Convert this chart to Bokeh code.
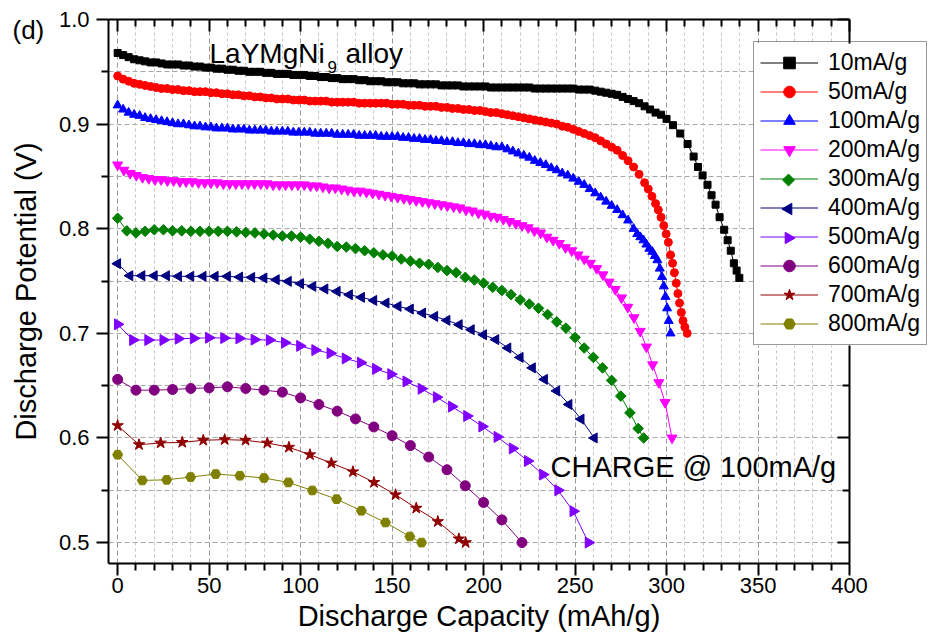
import math
from bokeh.plotting import figure
from bokeh.models import (LinearAxis, FixedTicker, PrintfTickFormatter, Legend,
                          LegendItem, Label, Range1d, Grid)
from bokeh.embed import file_html
from bokeh.resources import INLINE

FONT = "Liberation Sans"

# ---------------- data ----------------
x_major = [0, 50, 100, 150, 200, 250, 300, 350, 400]
x_minor = [10, 20, 30, 40, 60, 70, 80, 90, 110, 120, 130, 140, 160, 170, 180, 190,
           210, 220, 230, 240, 260, 270, 280, 290, 310, 320, 330, 340, 360, 370, 380, 390]
y_major = [0.5, 0.6, 0.7, 0.8, 0.9, 1.0]
y_minor = [0.55, 0.65, 0.75, 0.85, 0.95]

x10 = [0, 3, 6, 9, 12, 15, 18, 21, 24, 27, 30, 33, 36, 39, 42, 45, 48, 51, 54, 57, 60, 63, 66, 69,
       72, 75, 78, 81, 84, 87, 90, 93, 96, 99, 102, 105, 108, 111, 114, 117, 120, 123, 126, 129,
       132, 135, 138, 141, 144, 147, 150, 153, 156, 159, 162, 165, 168, 171, 174, 177, 180, 183,
       186, 189, 192, 195, 198, 201, 204, 207, 210, 213, 216, 219, 222, 225, 228, 231, 234, 237,
       240, 243, 246, 249, 252, 255, 258, 261, 264, 267, 270, 273, 276, 279, 282, 285, 288, 291,
       294, 297, 300, 303.5, 307.5, 311.5, 314.8, 317.2, 319.7, 322.4, 324.6, 326.8, 329, 331.5,
       333.4, 335.1, 336.8, 338.3, 339.8]
y10 = [0.968, 0.966, 0.964, 0.962, 0.961, 0.960, 0.959, 0.959, 0.958, 0.957, 0.957, 0.957, 0.956,
       0.956, 0.955, 0.955, 0.954, 0.954, 0.953, 0.953, 0.952, 0.952, 0.951, 0.951, 0.950, 0.950,
       0.950, 0.949, 0.949, 0.948, 0.948, 0.948, 0.947, 0.947, 0.947, 0.946, 0.946, 0.945, 0.945,
       0.944, 0.944, 0.943, 0.943, 0.943, 0.942, 0.942, 0.941, 0.941, 0.941, 0.940, 0.940, 0.940,
       0.939, 0.939, 0.939, 0.938, 0.938, 0.938, 0.938, 0.937, 0.937, 0.937, 0.937, 0.936, 0.936,
       0.936, 0.936, 0.936, 0.935, 0.935, 0.935, 0.935, 0.935, 0.935, 0.935, 0.935, 0.934, 0.934,
       0.934, 0.934, 0.934, 0.934, 0.934, 0.934, 0.933, 0.933, 0.933, 0.932, 0.931, 0.930, 0.929,
       0.928, 0.926, 0.924, 0.922, 0.920, 0.917, 0.914, 0.911, 0.909, 0.905, 0.899, 0.891, 0.881,
       0.869, 0.859, 0.851, 0.842, 0.832, 0.823, 0.811, 0.799, 0.789, 0.779, 0.767, 0.760, 0.753]

x50 = [0, 3, 6, 9, 12, 15, 18, 21, 24, 27, 30, 33, 36, 39, 42, 45, 48, 51, 54, 57, 60, 63, 66, 69,
       72, 75, 78, 81, 84, 87, 90, 93, 96, 99, 102, 105, 108, 111, 114, 117, 120, 123, 126, 129,
       132, 135, 138, 141, 144, 147, 150, 153, 156, 159, 162, 165, 168, 171, 174, 177, 180, 183,
       186, 189, 192, 195, 198, 201, 204, 207, 210, 213, 216, 219, 222, 225, 228, 231, 234, 237,
       240, 243, 246, 249, 252, 255, 258, 261, 264, 267, 270, 273, 276, 279, 282, 285, 288, 290,
       292, 294, 295.5, 297, 298.5, 299.8, 301, 302.2, 303.3, 304.3, 305.3, 306.2, 307.1, 308.1,
       309, 310, 311.3]
y50 = [0.946, 0.943, 0.941, 0.939, 0.938, 0.937, 0.936, 0.935, 0.934, 0.934, 0.933, 0.933, 0.932,
       0.932, 0.931, 0.931, 0.931, 0.930, 0.930, 0.929, 0.929, 0.928, 0.928, 0.927, 0.927, 0.926,
       0.926, 0.925, 0.925, 0.924, 0.924, 0.924, 0.923, 0.923, 0.923, 0.922, 0.922, 0.922, 0.922,
       0.921, 0.921, 0.921, 0.921, 0.921, 0.920, 0.920, 0.920, 0.920, 0.920, 0.920, 0.919, 0.919,
       0.919, 0.918, 0.918, 0.918, 0.917, 0.917, 0.917, 0.916, 0.916, 0.915, 0.915, 0.914, 0.914,
       0.913, 0.913, 0.912, 0.911, 0.911, 0.910, 0.909, 0.908, 0.907, 0.906, 0.905, 0.904, 0.903,
       0.902, 0.901, 0.900, 0.898, 0.897, 0.895, 0.893, 0.891, 0.889, 0.887, 0.884, 0.881, 0.878,
       0.875, 0.870, 0.865, 0.859, 0.852, 0.844, 0.838, 0.831, 0.824, 0.818, 0.811, 0.803, 0.795,
       0.787, 0.775, 0.767, 0.758, 0.748, 0.738, 0.729, 0.720, 0.712, 0.706, 0.700]

x100 = [0, 3, 6, 9, 12, 15, 18, 21, 24, 27, 30, 33, 36, 39, 42, 45, 48, 51, 54, 57, 60, 63, 66, 69,
        72, 75, 78, 81, 84, 87, 90, 93, 96, 99, 102, 105, 108, 111, 114, 117, 120, 123, 126, 129,
        132, 135, 138, 141, 144, 147, 150, 153, 156, 159, 162, 165, 168, 171, 174, 177, 180, 183,
        186, 189, 192, 195, 198, 201, 204, 207, 210, 213, 216, 219, 222, 225, 228, 231, 234, 237,
        240, 243, 246, 249, 252, 255, 258, 261, 264, 267, 270, 273, 276, 279, 282, 284, 285.7,
        287.4, 289, 290.6, 292.2, 293.6, 295, 296.3, 297.5, 298.5, 299.4, 300.3, 301.2, 302.2]
y100 = [0.918, 0.914, 0.911, 0.909, 0.908, 0.906, 0.905, 0.904, 0.903, 0.902, 0.901, 0.900, 0.900,
        0.899, 0.898, 0.898, 0.897, 0.897, 0.896, 0.896, 0.896, 0.895, 0.895, 0.895, 0.894, 0.894,
        0.894, 0.894, 0.893, 0.893, 0.893, 0.893, 0.892, 0.892, 0.892, 0.892, 0.891, 0.891, 0.891,
        0.891, 0.890, 0.890, 0.890, 0.890, 0.889, 0.889, 0.889, 0.889, 0.888, 0.888, 0.888, 0.888,
        0.887, 0.887, 0.886, 0.886, 0.885, 0.885, 0.884, 0.884, 0.883, 0.883, 0.882, 0.882, 0.881,
        0.881, 0.880, 0.880, 0.879, 0.878, 0.878, 0.876, 0.874, 0.872, 0.870, 0.868, 0.865, 0.863,
        0.861, 0.858, 0.856, 0.853, 0.851, 0.848, 0.845, 0.842, 0.838, 0.834, 0.830, 0.826, 0.822,
        0.818, 0.813, 0.808, 0.800, 0.795, 0.792, 0.789, 0.785, 0.781, 0.778, 0.774, 0.770, 0.762,
        0.754, 0.745, 0.735, 0.724, 0.712, 0.700]

x200 = [0, 3.4, 6.8, 10.2, 13.6, 17, 20.4, 23.8, 27.2, 30.6, 34, 37.4, 40.8, 44.2, 47.6, 51, 54.4,
        57.8, 61.2, 64.6, 68, 71.4, 74.8, 78.2, 81.6, 85, 88.4, 91.8, 95.2, 98.6, 102, 105.4, 108.8,
        112.2, 115.6, 119, 122.4, 125.8, 129.2, 132.6, 136, 139.4, 142.8, 146.2, 149.6, 153, 156.4,
        159.8, 163.2, 166.6, 170, 173.4, 176.8, 180.2, 183.6, 187, 190.4, 193.8, 197.2, 200.6, 204,
        207.4, 210.8, 214.2, 217.6, 221, 224.4, 227.8, 231.2, 234.6, 238, 241.4, 244.8, 248.2,
        251.6, 255, 258.4, 261.8, 265.2, 268.6, 272, 275.4, 278.8, 282.2, 285.6, 289, 292.4, 295.8,
        299.2, 303]
y200 = [0.861, 0.856, 0.853, 0.851, 0.849, 0.848, 0.847, 0.847, 0.846, 0.846, 0.845, 0.845, 0.845,
        0.844, 0.844, 0.844, 0.844, 0.843, 0.843, 0.843, 0.843, 0.843, 0.843, 0.843, 0.843, 0.842,
        0.842, 0.842, 0.842, 0.842, 0.842, 0.841, 0.841, 0.840, 0.839, 0.839, 0.838, 0.837, 0.836,
        0.836, 0.835, 0.834, 0.833, 0.832, 0.831, 0.830, 0.829, 0.828, 0.827, 0.826, 0.825, 0.824,
        0.823, 0.822, 0.821, 0.820, 0.818, 0.817, 0.815, 0.814, 0.812, 0.811, 0.809, 0.807, 0.805,
        0.803, 0.801, 0.798, 0.796, 0.792, 0.789, 0.786, 0.782, 0.779, 0.775, 0.771, 0.767, 0.762,
        0.756, 0.749, 0.742, 0.734, 0.725, 0.715, 0.702, 0.687, 0.670, 0.653, 0.634, 0.600]

x300 = [0, 5, 10, 15, 20, 25, 30, 35, 40, 45, 50, 55, 60, 65, 70, 75, 80, 85, 90, 95, 100, 105, 110,
        115, 120, 125, 130, 135, 140, 145, 150, 155, 160, 165, 170, 175, 180, 185, 190, 195, 200,
        205, 210, 215, 220, 225, 230, 235, 240, 245, 250, 255, 260, 265, 270, 275, 280, 284.5, 287.5]
y300 = [0.810, 0.798, 0.796, 0.7975, 0.799, 0.799, 0.798, 0.798, 0.7975, 0.7975, 0.7975, 0.7975,
        0.7975, 0.797, 0.7965, 0.796, 0.795, 0.794, 0.793, 0.793, 0.792, 0.790, 0.788, 0.786, 0.783,
        0.7825, 0.781, 0.779, 0.777, 0.775, 0.774, 0.771, 0.769, 0.767, 0.766, 0.763, 0.760, 0.758,
        0.7535, 0.751, 0.748, 0.744, 0.741, 0.737, 0.732, 0.728, 0.724, 0.718, 0.711, 0.705, 0.696,
        0.686, 0.677, 0.667, 0.655, 0.640, 0.624, 0.609, 0.600]

x400 = [0, 6.7, 13.3, 20, 26.7, 33.3, 40, 46.7, 53.3, 60, 66.7, 73.3, 80, 86.7, 93.3, 100, 106.7,
        113.3, 120, 126.7, 133.3, 140, 146.7, 153.3, 160, 166.7, 173.3, 180, 186.7, 193.3, 200,
        206.7, 213.3, 220, 226.7, 233.3, 240, 246.7, 253.3, 260.5]
y400 = [0.7666, 0.7551, 0.7551, 0.7551, 0.7551, 0.7545, 0.7545, 0.7545, 0.7545, 0.7545, 0.7538,
        0.7535, 0.7529, 0.7513, 0.7497, 0.7475, 0.7449, 0.7424, 0.7401, 0.7369, 0.7344, 0.7315,
        0.7290, 0.7258, 0.7232, 0.7194, 0.7162, 0.7124, 0.7083, 0.7035, 0.6987, 0.694, 0.686,
        0.677, 0.667, 0.656, 0.645, 0.632, 0.618, 0.600]

x500 = [0, 8.3, 16.6, 24.9, 33.2, 41.5, 49.8, 58.1, 66.4, 74.7, 83, 91.3, 99.6, 107.9, 116.2, 124.5,
        132.8, 141.1, 149.4, 157.7, 166, 174.3, 182.6, 190.9, 199.2, 207.5, 215.8, 224.1, 232.4,
        240.7, 249, 257.3]
y500 = [0.7086, 0.6936, 0.6936, 0.6936, 0.6949, 0.6952, 0.6958, 0.6955, 0.6952, 0.694, 0.6936,
        0.691, 0.688, 0.684, 0.681, 0.676, 0.672, 0.666, 0.661, 0.654, 0.647, 0.639, 0.630, 0.621,
        0.611, 0.601, 0.590, 0.578, 0.565, 0.550, 0.530, 0.500]

x600 = [0, 10, 20, 30, 40, 50, 60, 70, 80, 90, 100, 110, 120, 130, 140, 150, 160, 170, 180, 190, 200,
        210, 221]
y600 = [0.656, 0.6457, 0.6457, 0.6463, 0.6473, 0.6479, 0.6489, 0.6473, 0.6457, 0.6438, 0.6383,
        0.632, 0.6256, 0.6182, 0.6105, 0.6022, 0.5927, 0.5818, 0.5696, 0.5543, 0.5383, 0.5217, 0.500]

x700 = [0, 11.7, 23.5, 35.3, 46.8, 58.5, 69.9, 81.8, 93.6, 105.1, 116.8, 128.6, 140.1, 151.9, 163.2,
        175, 186.5, 190.2]
y700 = [0.6118, 0.5936, 0.5952, 0.5958, 0.5978, 0.5984, 0.5978, 0.5952, 0.5911, 0.584, 0.576,
        0.5677, 0.5575, 0.5457, 0.5329, 0.5201, 0.5035, 0.500]

x800 = [0, 13.5, 26.8, 39.9, 53.6, 66.8, 80, 93.3, 106.4, 119.7, 133.2, 146.4, 159.7, 166.1]
y800 = [0.584, 0.5594, 0.560, 0.5626, 0.5655, 0.5639, 0.5617, 0.5575, 0.5498, 0.5415, 0.5304,
        0.5192, 0.5058, 0.500]

labels = ["10mA/g", "50mA/g", "100mA/g", "200mA/g", "300mA/g", "400mA/g", "500mA/g", "600mA/g",
          "700mA/g", "800mA/g"]
xs = [x10, x50, x100, x200, x300, x400, x500, x600, x700, x800]
ys = [y10, y50, y100, y200, y300, y400, y500, y600, y700, y800]
colors = ["#000000", "#FF0000", "#0000FF", "#FF00FF", "#008000", "#000080", "#8000FF", "#800080",
          "#900000", "#808000"]
markers = ["square", "circle", "triangle", "inverted_triangle", "square", "triangle", "triangle",
           "circle", "star", "hex"]
sizes = [7, 8, 9, 10, 7.5, 10, 11, 10, 12, 10]
angles = [0, 0, 0, 0, math.pi / 4, math.pi / 2, -math.pi / 2, 0, 0, 0]

# ---------------- layout constants (screen px of the original frame) ----------------
W, H = 929, 642
FL, FR, FT, FB = 108, 849, 19, 563          # plot-area edges
XA, XB = -5.0, 400.0                        # axis extent
YA, YB = 0.48, 1.0
kx = (FR - FL) / (XB - XA)
ky = (FB - FT) / (YB - YA)
x_start = XA - FL / kx
x_end = XB + (W - FR) / kx
y_start = YA - (H - FB) / ky
y_end = YB + FT / ky

def dx(px):
    return x_start + px / kx

def dy(py):
    return y_end - py / ky

# legend box geometry (screen px)
LG_L, LG_T = 753, 43
LG_PAD, LG_GH, LG_GW, LG_STAND = 6, 29, 58, 10
N = len(labels)
lg_h = LG_GH * N + 2 * LG_PAD
LG_B = LG_T + lg_h
LG_R = 925

p = figure(width=W, height=H, x_range=Range1d(x_start, x_end), y_range=Range1d(y_start, y_end),
           output_backend="svg", toolbar_location=None,
           min_border=0, min_border_left=0, min_border_right=0, min_border_top=0,
           min_border_bottom=0,
           x_axis_label="Discharge Capacity (mAh/g)", y_axis_label="Discharge Potential (V)")
p.outline_line_color = None
p.background_fill_color = "white"
p.border_fill_color = "white"

xt = FixedTicker(ticks=x_major, minor_ticks=x_minor)
yt = FixedTicker(ticks=y_major, minor_ticks=y_minor)

def style_axis(ax, outward=True):
    ax.axis_line_width = 2
    ax.axis_line_color = "black"
    ax.major_tick_line_width = 2
    ax.minor_tick_line_width = 2
    ax.major_tick_line_color = "black"
    ax.minor_tick_line_color = "black"
    if outward:
        ax.major_tick_out = 12
        ax.major_tick_in = 0
        ax.minor_tick_out = 7
        ax.minor_tick_in = 0
    else:
        ax.major_tick_out = 0
        ax.major_tick_in = 12
        ax.minor_tick_out = 0
        ax.minor_tick_in = 7
    ax.major_label_text_font = FONT
    ax.major_label_text_font_size = "22px"
    ax.major_label_text_color = "black"
    ax.axis_label_text_font = FONT
    ax.axis_label_text_font_size = "29px"
    ax.axis_label_text_font_style = "normal"
    ax.axis_label_text_color = "black"

for ax in p.xaxis:
    ax.ticker = xt
    style_axis(ax)
    ax.fixed_location = YA
    ax.bounds = (XA, XB)
    ax.major_label_standoff = 2
    ax.axis_label_standoff = 4
for ax in p.yaxis:
    ax.ticker = yt
    ax.formatter = PrintfTickFormatter(format="%.1f")
    style_axis(ax)
    ax.fixed_location = XA
    ax.bounds = (YA, YB)
    ax.major_label_standoff = 7
    ax.axis_label_standoff = 14

top = LinearAxis(ticker=xt)
style_axis(top, outward=False)
top.major_label_text_color = None
top.fixed_location = YB
top.bounds = (XA, XB)
p.add_layout(top, "above")
# right frame axis, interrupted where the legend box covers it
for lo, hi in [(YA, dy(LG_B)), (dy(LG_T), YB)]:
    tk = FixedTicker(ticks=[t for t in y_major if lo - 1e-9 <= t <= hi + 1e-9],
                     minor_ticks=[t for t in y_minor if lo - 1e-9 <= t <= hi + 1e-9])
    right = LinearAxis(ticker=tk)
    style_axis(right, outward=False)
    right.major_label_text_color = None
    right.fixed_location = XB
    right.bounds = (lo, hi)
    p.add_layout(right, "right")

has_cross = "cross_bounds" in Grid.properties()
if has_cross:
    p.xgrid.cross_bounds = (YA, YB)
    p.ygrid.cross_bounds = (XA, XB)
    p.xgrid.bounds = (XA, XB)
    p.ygrid.bounds = (YA, YB)
    p.xgrid.grid_line_color = "#9a9a9a"
    p.xgrid.grid_line_dash = "5 3"
    p.xgrid.minor_grid_line_color = "#c4c4c4"
    p.xgrid.minor_grid_line_dash = "3 3"
    p.ygrid.grid_line_color = "#a8a8a8"
    p.ygrid.grid_line_dash = "5 3"
    p.ygrid.minor_grid_line_color = "#a8a8a8"
    p.ygrid.minor_grid_line_dash = "5 3"
else:
    p.xgrid.visible = False
    p.ygrid.visible = False
    p.segment(x0=x_major, x1=x_major, y0=[YA] * len(x_major), y1=[YB] * len(x_major),
              line_color="#9a9a9a", line_dash="5 3", level="underlay")
    p.segment(x0=x_minor, x1=x_minor, y0=[YA] * len(x_minor), y1=[YB] * len(x_minor),
              line_color="#c4c4c4", line_dash="3 3", level="underlay")
    yy = y_major + y_minor
    p.segment(x0=[XA] * len(yy), x1=[XB] * len(yy), y0=yy, y1=yy,
              line_color="#a8a8a8", line_dash="5 3", level="underlay")

# white backing of the legend box (covers grid lines)
p.quad(left=[dx(LG_L)], right=[dx(LG_R)], top=[dy(LG_T)], bottom=[dy(LG_B)],
       fill_color="white", line_color=None)

rotated = {"300mA/g", "400mA/g", "500mA/g"}
items = []
for i, (lab, x, y, c, m, s, a) in enumerate(zip(labels, xs, ys, colors, markers, sizes, angles)):
    lr = p.line(x, y, line_color=c, line_width=1)
    sr = p.scatter(x, y, marker=m, size=s, angle=a, fill_color=c, line_color=c)
    if lab in rotated:
        # rotated symbol for the legend row, placed on the legend glyph centre
        gx = dx(LG_L + LG_PAD + LG_GW / 2)
        gy = dy(LG_T + LG_PAD + LG_GH / 2 + LG_GH * i)
        p.scatter([gx], [gy], marker=m, size=8.5 if m == "square" else 11.5, angle=a,
                  fill_color=c, line_color=c)
        items.append(LegendItem(label=lab, renderers=[lr]))
    else:
        items.append(LegendItem(label=lab, renderers=[lr, sr]))

legend = Legend(items=items, location=(LG_L, H - LG_B), margin=0, padding=LG_PAD, spacing=0,
                glyph_width=LG_GW, glyph_height=LG_GH, label_height=LG_GH,
                label_standoff=LG_STAND,
                label_text_font=FONT, label_text_font_size="23px", label_text_color="black",
                border_line_color="#333333", border_line_width=1,
                background_fill_alpha=0.0)
p.add_layout(legend)

p.add_layout(Label(x=dx(12), y=dy(29.5), text="(d)", text_font=FONT, text_font_size="26px",
                   text_baseline="alphabetic", text_color="black"))
p.add_layout(Label(x=dx(209), y=dy(52.8), text="LaYMgNi", text_font=FONT, text_font_size="28px",
                   text_baseline="alphabetic", text_color="black"))
p.add_layout(Label(x=dx(327), y=dy(66), text="9", text_font=FONT, text_font_size="17px",
                   text_baseline="alphabetic", text_color="black"))
p.add_layout(Label(x=dx(345), y=dy(52.8), text="alloy", text_font=FONT, text_font_size="28px",
                   text_baseline="alphabetic", text_color="black"))
p.add_layout(Label(x=dx(550), y=dy(466.2), text="CHARGE @ 100mA/g", text_font=FONT,
                   text_font_size="29px", text_baseline="alphabetic", text_color="black"))

open("out.html", "w").write(file_html(p, INLINE))
